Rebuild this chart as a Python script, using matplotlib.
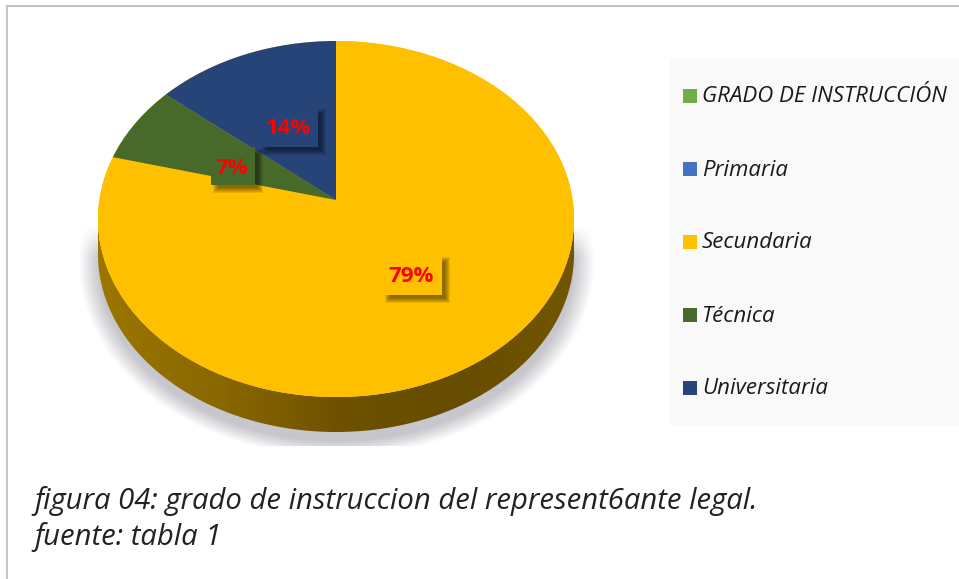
import numpy as np
import matplotlib
matplotlib.use("Agg")
import matplotlib.pyplot as plt
from matplotlib.colors import LinearSegmentedColormap, to_rgb
from matplotlib.patches import Ellipse, PathPatch, Rectangle
from matplotlib.path import Path

# pie data, clockwise from 12 o'clock
slice_names = ["Secundaria", "Técnica", "Universitaria"]
slice_values = [79, 7, 14]
slice_colors = ["#ffc000", "#476a2b", "#264478"]

legend_names = ["GRADO DE INSTRUCCIÓN", "Primaria", "Secundaria", "Técnica", "Universitaria"]
legend_colors = ["#70ad47", "#4472c4", "#ffc000", "#476a2b", "#264478"]

caption = ["figura 04: grado de instruccion del represent6ante legal.", "fuente: tabla 1"]

W, H = 959, 579
plt.rcParams["font.family"] = ["Open Sans", "DejaVu Sans"]

fig = plt.figure(figsize=(W / 100, H / 100), dpi=100)
bg = fig.add_axes([0, 0, 1, 1])
bg.axis("off")

# soft shadow under the pie
xx, yy = np.meshgrid(np.arange(70, 600), np.arange(225, 446))
d = np.sqrt(((xx - 336) / 258) ** 2 + ((yy - 262) / 194) ** 2)
alpha = np.clip((1.0 - d) / 0.08, 0, 1) * np.clip((yy - 225) / 30, 0, 1)
shadow = np.zeros(xx.shape + (4,))
shadow[..., :3] = to_rgb("#c6c6cc")
shadow[..., 3] = alpha
bg.imshow(shadow, extent=(70, 600, 446, 225), zorder=1, aspect="auto")

# side wall of the disc
cx, cy, rx, ry, depth = 336, 219, 238, 178, 35
side = np.linspace(0, 1, 256).reshape(1, -1)
side_cmap = LinearSegmentedColormap.from_list("side", ["#9c7600", "#8a6800", "#6e5200", "#664c00", "#735600"])
side_img = bg.imshow(side, extent=(cx - rx, cx + rx, cy + ry + depth, cy), cmap=side_cmap, zorder=2, aspect="auto")
t = np.linspace(0, np.pi, 200)
low = np.column_stack([cx + rx * np.cos(t), cy + depth + ry * np.sin(t)])
up = np.column_stack([cx + rx * np.cos(t[::-1]), cy + ry * np.sin(t[::-1])])
wall = Path(np.vstack([low, up, low[:1]]), closed=True)
bg.set_xlim(0, W)
bg.set_ylim(H, 0)
side_img.set_clip_path(PathPatch(wall, transform=bg.transData))

# frame around the chart
bg.plot([7, 7], [H, 6], color="#c4c4c4", lw=1.5)
bg.plot([7, W], [6, 6], color="#c4c4c4", lw=1.5)

# top face: apex sits above the ellipse centre, wedges clipped to the ellipse
pie_ax = fig.add_axes([(cx - rx) / W, 1 - (cy + ry) / H, 2 * rx / W, 2 * ry / H], zorder=2)
wedges, _ = pie_ax.pie(slice_values, colors=slice_colors, startangle=90, counterclock=False,
                       center=(0, (cy - 200) / ry), radius=1.4)
pie_ax.set_aspect("auto")
pie_ax.set_xlim(-1, 1)
pie_ax.set_ylim(-1, 1)
pie_ax.axis("off")
outline = Ellipse((0, 0), 2, 2, transform=pie_ax.transData)
pie_ax.add_patch(Ellipse((0, 0), 2, 2, color="#ffc000", lw=0, zorder=0))
for w in wedges:
    w.set_clip_on(True)
    w.set_clip_path(outline)

# data labels with their drop shadow boxes
top = fig.add_axes([0, 0, 1, 1], zorder=3)
top.set_xlim(0, W)
top.set_ylim(H, 0)
top.axis("off")
label_boxes = [(383, 255, 59, 40), (211, 147, 44, 38), (260, 107, 58, 40)]
for v, c, (bx, by, bw, bh) in zip(slice_values, slice_colors, label_boxes):
    # blurred shadow from stacked translucent rects
    for grow in [3, 2, 1, 0, -1, -2]:
        top.add_patch(Rectangle((bx + 5 - grow, by + 5 - grow), bw + 2 * grow, bh + 2 * grow,
                                color="black", lw=0, alpha=0.09))
    top.add_patch(Rectangle((bx, by), bw, bh, color=c, lw=0))
    top.text(bx + bw / 2 - 1, by + bh / 2 + 2, f"{v}%", color="#ff0000", fontsize=16, fontweight="bold",
             ha="center", va="center")

# legend panel
top.add_patch(Rectangle((670, 59), W - 670, 367, color="#f9f9f9", lw=0))
legend_y = [96, 169, 242, 315, 388]
for name, c, ly in zip(legend_names, legend_colors, legend_y):
    top.add_patch(Rectangle((683, ly - 7), 14, 14, color=c, lw=0))
    top.text(702, ly + 1, name, fontsize=16, style="italic", color="#1a1a1a", ha="left", va="center")

# caption under the chart
top.text(34, 501, caption[0], fontsize=21.1, style="italic", color="#222222", va="center")
top.text(34, 537, caption[1], fontsize=21.1, style="italic", color="#222222", va="center")

fig.savefig("out.png", dpi=100)
